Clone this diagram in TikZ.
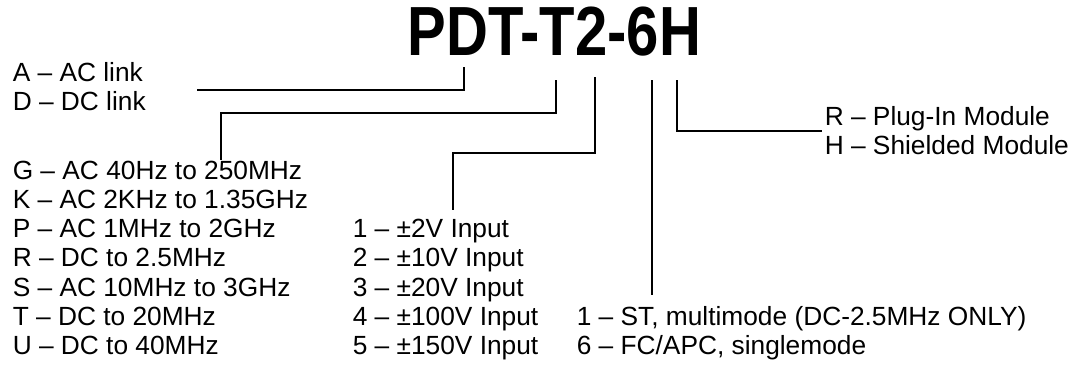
\documentclass[tikz,border=0pt]{standalone}
\usepackage{graphicx}
\usepackage{fontspec}
\setmainfont{Liberation Sans}

\begin{document}
\begin{tikzpicture}[x=1pt, y=-1pt, line width=1.5pt,
        opt/.style={anchor=base west, inner sep=0pt, font=\fontsize{26.3}{29}\selectfont}]

        % --- Riquadro di sfondo (fissa i margini) ---
        \fill[white] (0,0) rectangle (1083,368);
        \useasboundingbox (0,0) rectangle (1083,368);

        % --- Codice del modello ---
        \node[anchor=base west, inner sep=0pt, font=\fontsize{58}{60}\selectfont\bfseries]
            (title) at (407,55) {\scalebox{1}[1.2]{PDT-T2-6H}};

        % --- Tipo di collegamento (A, D) ---
        \node[opt] (linkA) at (12,81) {A – AC link};
        \node[opt] (linkD) at (12,110) {D – DC link};

        % --- Banda passante, una riga ogni 29.3 ---
        \foreach \lbl [count=\idx from 0] in {
            G – AC 40Hz to 250MHz,
            K – AC 2KHz to 1.35GHz,
            P – AC 1MHz to 2GHz,
            R – DC to 2.5MHz,
            S – AC 10MHz to 3GHz,
            T – DC to 20MHz,
            U – DC to 40MHz
        } {
            \node[opt] (band\idx) at (12,{179+29.3*\idx}) {\lbl};
        }

        % --- Ingresso (1..5) ---
        \foreach \volt [count=\idx] in {2, 10, 20, 100, 150} {
            \node[opt] (inp\idx) at (352,{208.3+29.3*\idx}) {\idx{} – ±\volt V Input};
        }

        % --- Fibra ottica ---
        \node[opt] (fibST) at (576,325.5) {1 – ST, multimode (DC-2.5MHz ONLY)};
        \node[opt] (fibFC) at (576,354.8) {6 – FC/APC, singlemode};

        % --- Tipo di modulo ---
        \node[opt] (modR) at (824,125) {R – Plug-In Module};
        \node[opt] (modH) at (824,154) {H – Shielded Module};

        % --- Punti sotto le lettere del codice ---
        \coordinate (pinD) at (464,67);
        \coordinate (pinT) at (556,80);
        \coordinate (pinTwo) at (595,77);
        \coordinate (pinSix) at (652,80);
        \coordinate (pinH) at (677,80);

        % --- Gomiti e estremi liberi ---
        \coordinate (kneeT) at (556,113);
        \coordinate (kneeTwo) at (595,153);
        \coordinate (endA) at (197,90);
        \coordinate (endT) at (221,160);
        \coordinate (endTwo) at (453,210);
        \coordinate (endSix) at (652,295);
        \coordinate (endH) at (822,131);

        % --- Linee di richiamo ---
        \draw (pinD) |- (endA);
        \draw (pinT) -- (kneeT) -| (endT);
        \draw (pinTwo) -- (kneeTwo) -| (endTwo);
        \draw (pinSix) -- (endSix);
        \draw (pinH) |- (endH);

    \end{tikzpicture}
\end{document}
